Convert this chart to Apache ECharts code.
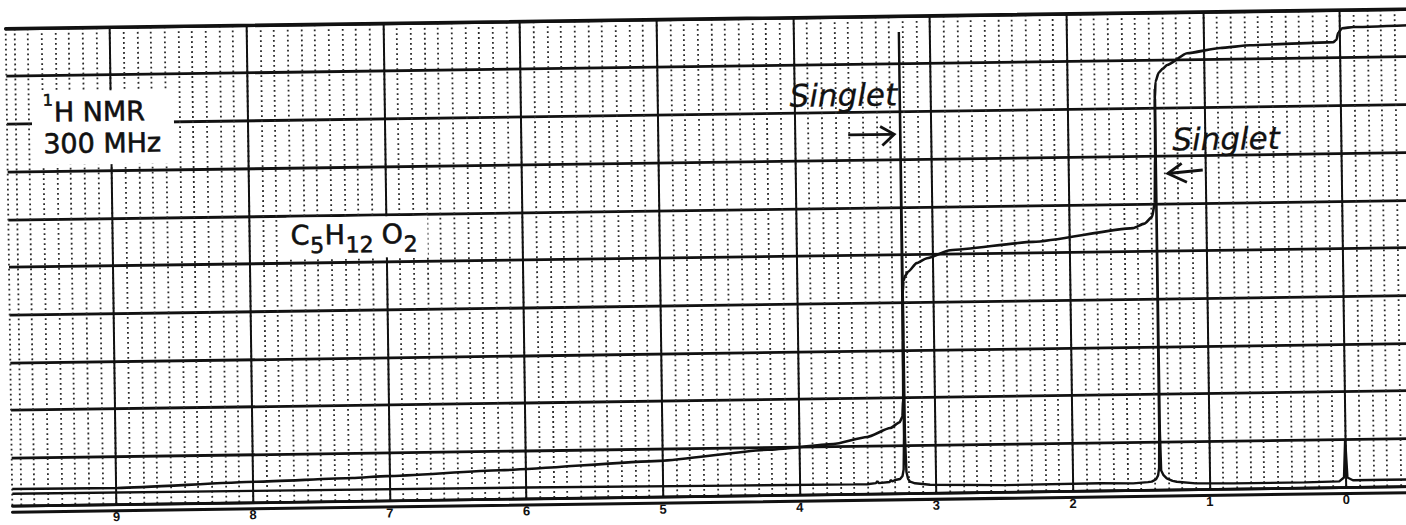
<!DOCTYPE html>
<html><head><meta charset="utf-8">
<script src="https://cdn.jsdelivr.net/npm/echarts@6/dist/echarts.min.js"></script>
<style>
html,body{margin:0;padding:0;background:#fff;overflow:hidden;width:1406px;height:525px;}
#chart{position:absolute;left:0;top:0;width:1430px;height:525px;transform:rotate(-0.8deg);transform-origin:703px 262.5px;}
</style></head><body><div id="chart"></div>
<script>
// chemical-shift tick labels (ppm)
const TICK_VALUES = [9, 8, 7, 6, 5, 4, 3, 2, 1, 0];

// spectrum trace (ppm, intensity in chart-paper divisions)
const SPEC_PPM = [9.76, 8.0, 6.0, 4.5, 3.6, 3.505, 3.44, 3.43, 3.42, 3.34, 3.33, 3.32, 3.30, 3.263, 3.245, 3.236, 3.230, 3.2265, 3.223, 3.216, 3.205, 3.19, 3.154, 3.044, 2.5, 1.8, 1.558, 1.45, 1.422, 1.39, 1.375, 1.367, 1.3625, 1.36, 1.3575, 1.352, 1.337, 1.312, 1.27, 1.239, 1.1, 0.827, 0.3, 0.05, 0.015, 0.003, -0.01, -0.05, -0.3, -0.6];
const SPEC_INT = [0.25, 0.24, 0.23, 0.21, 0.20, 0.20, 0.22, 0.26, 0.22, 0.24, 0.28, 0.25, 0.28, 0.30, 0.36, 0.50, 1.2, 9.67, 1.2, 0.45, 0.30, 0.24, 0.205, 0.17, 0.14, 0.15, 0.14, 0.16, 0.17, 0.22, 0.30, 0.45, 1.2, 8.4, 1.2, 0.40, 0.31, 0.235, 0.18, 0.16, 0.12, 0.11, 0.11, 0.12, 0.20, 1.0, 0.20, 0.14, 0.14, 0.14];

// integral trace
const INTEG_PPM = [9.76, 8.99, 7.97, 7.27, 7.02, 6.19, 5.02, 4.23, 3.75, 3.50, 3.33, 3.26, 3.24, 3.232, 3.228, 3.225, 3.218, 3.205, 3.184, 3.12, 3.044, 2.874, 2.266, 1.533, 1.45, 1.393, 1.372, 1.364, 1.36, 1.354, 1.33, 1.30, 1.267, 1.12, 0.878, 0.658, 0.05, 0.025, 0.013, -0.017, -0.1, -0.6];
const INTEG_VAL = [0.35, 0.34, 0.43, 0.48, 0.51, 0.60, 0.75, 0.95, 1.05, 1.19, 1.37, 1.49, 1.60, 2.0, 3.2, 4.2, 4.45, 4.56, 4.64, 4.82, 4.92, 5.08, 5.23, 5.49, 5.58, 5.72, 6.0, 7.0, 8.2, 8.55, 8.74, 8.82, 8.90, 9.14, 9.24, 9.29, 9.33, 9.38, 9.52, 9.62, 9.64, 9.67];

const zip = (a, b) => a.map((v, i) => [v, b[i]]);
const INK = '#111';
const chart = echarts.init(document.getElementById('chart'), null, { renderer: 'svg' });

const xCommon = { type: 'value', inverse: true, min: -0.6, max: 9.761 };
const txt = (x, y, text, font, extra) => ({
  type: 'text', z: 101, silent: true,
  style: Object.assign({ x: x, y: y, text: text, font: font, fill: INK, stroke: INK, lineWidth: 0.6, textAlign: 'left', textVerticalAlign: 'middle' }, extra || {})
});
const SANS = '"DejaVu Sans"';
const bareAxis = (pos, offset, width) => Object.assign({}, xCommon, {
  position: pos, offset: offset,
  axisLine: { show: true, onZero: false, lineStyle: { color: INK, width: width } },
  axisTick: { show: false }, axisLabel: { show: false }, splitLine: { show: false }
});

chart.setOption({
  animation: false,
  backgroundColor: '#fff',
  grid: { left: 9, right: 5, top: 19, bottom: 29 },
  xAxis: [
    Object.assign({}, xCommon, {
      position: 'bottom', interval: 0.1,
      axisLine: { show: true, onZero: false, lineStyle: { color: INK, width: 2.6 } },
      axisTick: { show: false },
      axisLabel: { customValues: TICK_VALUES, margin: 6, color: INK, fontFamily: 'Liberation Sans', fontWeight: 'bold', fontSize: 13 },
      splitLine: { show: true, lineStyle: { color: '#2a2a2a', width: 1.8, type: [1.8, 3.2] } }
    }),
    bareAxis('top', 0, 3.5),
    bareAxis('bottom', 6, 3)
  ],
  yAxis: {
    type: 'value', min: 0, max: 10, interval: 1,
    axisLine: { show: false }, axisTick: { show: false }, axisLabel: { show: false },
    splitLine: { show: true, lineStyle: { color: INK, width: 2.8 } }
  },
  series: [
    {
      type: 'line', data: zip(SPEC_PPM, SPEC_INT), showSymbol: false, silent: true, z: 5,
      lineStyle: { color: INK, width: 2.4 },
      markLine: {
        silent: true, symbol: ['none', 'none'], label: { show: false },
        lineStyle: { color: INK, width: 2, type: 'solid' },
        emphasis: { disabled: true },
        data: TICK_VALUES.map(v => ({ xAxis: v }))
      }
    },
    {
      type: 'line', data: zip(INTEG_PPM, INTEG_VAL), showSymbol: false, silent: true, z: 6,
      smooth: 0.2, smoothMonotone: 'x',
      lineStyle: { color: INK, width: 2.6 }
    }
  ],
  graphic: [
    { type: 'rect', z: 100, silent: true, shape: { x: 34, y: 82, width: 142, height: 74 }, style: { fill: '#fff' } },
    { type: 'rect', z: 100, silent: true, shape: { x: 287, y: 212, width: 141, height: 41 }, style: { fill: '#fff' } },
    txt(45, 91, '1', '16px ' + SANS),
    txt(56, 103, 'H NMR', '27px ' + SANS),
    txt(45, 134.6, '300 MHz', '27px ' + SANS),
    txt(291, 229.5, 'C', '27px ' + SANS),
    txt(310.5, 240, '5', '22px ' + SANS),
    txt(325, 229.5, 'H', '27px ' + SANS),
    txt(346, 240, '12', '22px ' + SANS),
    txt(382, 229.5, 'O', '27px ' + SANS),
    txt(404, 240, '2', '22px ' + SANS),
    txt(792, 97, 'Singlet', 'italic 31px ' + SANS, { lineWidth: 0.3 }),
    txt(1174, 146, 'Singlet', 'italic 31px ' + SANS, { lineWidth: 0.3 }),
    { type: 'polyline', z: 101, silent: true, shape: { points: [[850, 137], [895, 137]] }, style: { stroke: INK, lineWidth: 2.8, fill: null } },
    { type: 'polyline', z: 101, silent: true, shape: { points: [[882, 129], [896, 137], [884, 148]] }, style: { stroke: INK, lineWidth: 2.8, fill: null } },
    { type: 'polyline', z: 101, silent: true, shape: { points: [[1169, 180], [1204, 177]] }, style: { stroke: INK, lineWidth: 2.8, fill: null } },
    { type: 'polyline', z: 101, silent: true, shape: { points: [[1183, 170], [1169, 180], [1188, 189]] }, style: { stroke: INK, lineWidth: 2.8, fill: null } }
  ]
});
</script></body></html>
